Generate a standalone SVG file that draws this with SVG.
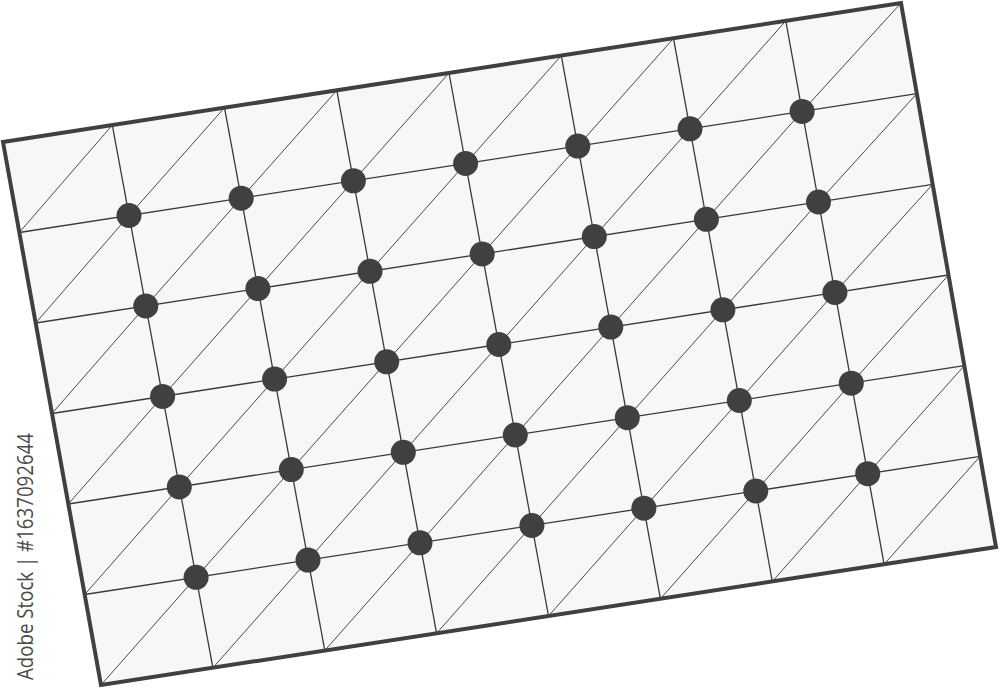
<svg xmlns="http://www.w3.org/2000/svg" width="1000" height="690" viewBox="0 0 1000 690">
<style>
.grid{stroke:#3a3a3a;stroke-width:1.3;fill:none}
.diag{stroke:#4a4a4a;stroke-width:1;fill:none}
.dot{fill:#404040}
.wm{font-family:"Open Sans","Liberation Sans",sans-serif;font-size:21px;fill:#4a4a4a}
</style>
<rect width="1000" height="690" fill="#ffffff"/>
<g id="board">
<polygon points="3,142 901,3 996,547 101,685" fill="#f7f7f5"/>
</g>
<g id="connectors">
<g class="grid">
<line x1="112.3" y1="125.1" x2="212.9" y2="667.8"/>
<line x1="224.5" y1="107.7" x2="324.8" y2="650.5"/>
<line x1="336.8" y1="90.4" x2="436.6" y2="633.3"/>
<line x1="449" y1="73" x2="548.5" y2="616"/>
<line x1="561.3" y1="55.6" x2="660.4" y2="598.8"/>
<line x1="673.5" y1="38.3" x2="772.3" y2="581.5"/>
<line x1="785.8" y1="20.9" x2="884.1" y2="564.3"/>
<line x1="19.3" y1="232.5" x2="916.8" y2="93.7"/>
<line x1="35.7" y1="323" x2="932.7" y2="184.3"/>
<line x1="52" y1="413.5" x2="948.5" y2="275"/>
<line x1="68.3" y1="504" x2="964.3" y2="365.7"/>
<line x1="84.7" y1="594.5" x2="980.2" y2="456.3"/>
</g>
<g class="diag">
<polyline points="19.3,232.5 112.3,125.1"/>
<polyline points="35.7,323 129,215.5 224.5,107.7"/>
<polyline points="52,413.5 145.8,306 241.2,198.2 336.8,90.4"/>
<polyline points="68.3,504 162.6,396.4 257.9,288.6 353.4,180.8 449,73"/>
<polyline points="84.7,594.5 179.3,486.9 274.6,379.1 370,271.3 465.6,163.5 561.3,55.6"/>
<polyline points="101,685 196.1,577.3 291.3,469.6 386.7,361.8 482.2,254 577.8,146.1 673.5,38.3"/>
<polyline points="212.9,667.8 308,560.1 403.3,452.3 498.8,344.5 594.3,236.6 690,128.8 785.8,20.9"/>
<polyline points="324.8,650.5 420,542.8 515.3,435 610.8,327.1 706.4,219.3 802.1,111.4 901,3"/>
<polyline points="436.6,633.3 531.9,525.5 627.3,417.7 722.9,309.8 818.5,202 916.8,93.7"/>
<polyline points="548.5,616 643.9,508.2 739.3,400.5 834.9,292.5 932.7,184.3"/>
<polyline points="660.4,598.8 755.8,491 851.3,383.2 948.5,275"/>
<polyline points="772.3,581.5 867.7,473.7 964.3,365.7"/>
<polyline points="884.1,564.3 980.2,456.3"/>
</g>
</g>
<g id="border">
<polygon points="3,142 901,3 996,547 101,685" fill="none" stroke="#404040" stroke-width="4" stroke-linejoin="miter"/>
</g>
<g id="dots" class="dot">
<circle cx="129" cy="215.5" r="12.5"/><circle cx="241.2" cy="198.2" r="12.5"/><circle cx="353.4" cy="180.8" r="12.5"/><circle cx="465.6" cy="163.5" r="12.5"/><circle cx="577.8" cy="146.1" r="12.5"/><circle cx="690" cy="128.8" r="12.5"/><circle cx="802.1" cy="111.4" r="12.5"/>
<circle cx="145.8" cy="306" r="12.5"/><circle cx="257.9" cy="288.6" r="12.5"/><circle cx="370" cy="271.3" r="12.5"/><circle cx="482.2" cy="254" r="12.5"/><circle cx="594.3" cy="236.6" r="12.5"/><circle cx="706.4" cy="219.3" r="12.5"/><circle cx="818.5" cy="202" r="12.5"/>
<circle cx="162.6" cy="396.4" r="12.5"/><circle cx="274.6" cy="379.1" r="12.5"/><circle cx="386.7" cy="361.8" r="12.5"/><circle cx="498.8" cy="344.5" r="12.5"/><circle cx="610.8" cy="327.1" r="12.5"/><circle cx="722.9" cy="309.8" r="12.5"/><circle cx="834.9" cy="292.5" r="12.5"/>
<circle cx="179.3" cy="486.9" r="12.5"/><circle cx="291.3" cy="469.6" r="12.5"/><circle cx="403.3" cy="452.3" r="12.5"/><circle cx="515.3" cy="435" r="12.5"/><circle cx="627.3" cy="417.7" r="12.5"/><circle cx="739.3" cy="400.5" r="12.5"/><circle cx="851.3" cy="383.2" r="12.5"/>
<circle cx="196.1" cy="577.3" r="12.5"/><circle cx="308" cy="560.1" r="12.5"/><circle cx="420" cy="542.8" r="12.5"/><circle cx="531.9" cy="525.5" r="12.5"/><circle cx="643.9" cy="508.2" r="12.5"/><circle cx="755.8" cy="491" r="12.5"/><circle cx="867.7" cy="473.7" r="12.5"/>
</g>
<g id="watermark">
<text class="wm" transform="translate(33,680) rotate(-90)" textLength="247" lengthAdjust="spacingAndGlyphs">Adobe Stock | #1637092644</text>
</g>
</svg>
